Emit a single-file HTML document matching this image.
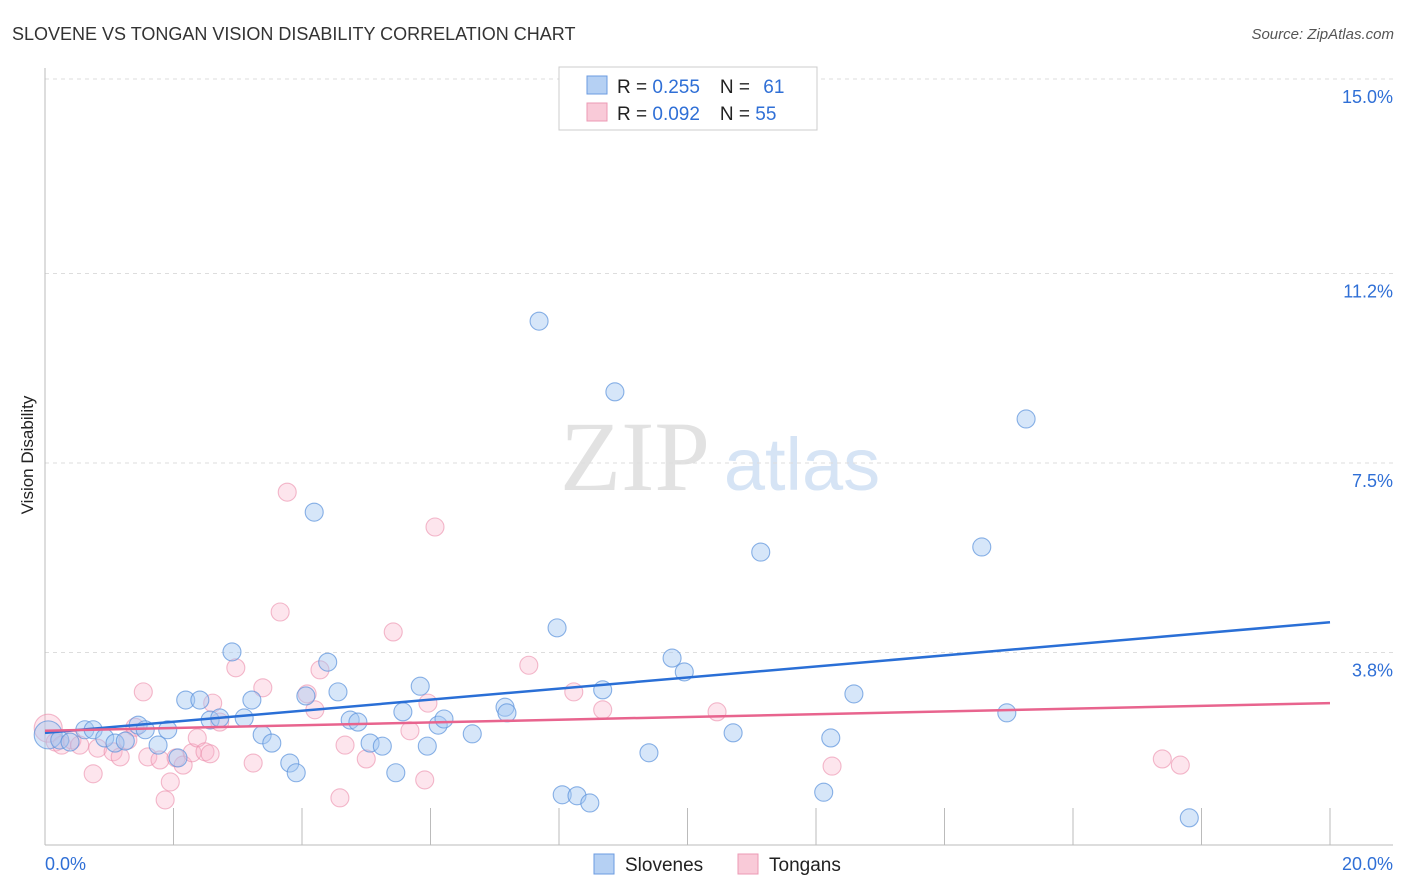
<!DOCTYPE html>
<html><head><meta charset="utf-8"><style>
body{margin:0;background:#fff;font-family:"Liberation Sans",sans-serif;}
svg{display:block}
</style></head><body>
<svg id="chart" width="1406" height="892" xmlns="http://www.w3.org/2000/svg">
<text x="12" y="40" font-size="18" fill="#333">SLOVENE VS TONGAN VISION DISABILITY CORRELATION CHART</text>
<text x="1394" y="39" font-size="15" fill="#555" font-style="italic" text-anchor="end">Source: ZipAtlas.com</text>
<text transform="translate(33,455) rotate(-90)" font-size="17" fill="#222" text-anchor="middle">Vision Disability</text>
<g>
<text x="635" y="490" font-family="Liberation Serif,serif" font-size="100" fill="#e2e2e2" text-anchor="middle">ZIP</text>
<text x="802" y="490" font-size="74" fill="#d6e4f5" text-anchor="middle">atlas</text>
</g>
<g id="grid"></g>
<g id="axes"></g>
<g id="pts"></g>
<g id="lines"></g>
<g>
<rect x="559" y="67" width="258" height="63" fill="#fff" stroke="#ccc"/>
<rect x="587" y="76" width="20" height="18" fill="#b5d0f3" stroke="#6b9be0"/>
<rect x="587" y="103" width="20" height="18" fill="#f9cad8" stroke="#ec9ab4"/>
<text x="617" y="93" font-size="19" fill="#222">R = <tspan fill="#2f6fd6">0.255</tspan><tspan dx="20">N = </tspan><tspan dx="8" fill="#2f6fd6">61</tspan></text>
<text x="617" y="120" font-size="19" fill="#222">R = <tspan fill="#2f6fd6">0.092</tspan><tspan dx="20">N = </tspan><tspan fill="#2f6fd6">55</tspan></text>
</g>
<g>
<rect x="594" y="854" width="20" height="20" fill="#b5d0f3" stroke="#6b9be0"/>
<text x="625" y="871" font-size="19" fill="#222">Slovenes</text>
<rect x="738" y="854" width="20" height="20" fill="#f9cad8" stroke="#ec9ab4"/>
<text x="769" y="871" font-size="19" fill="#222">Tongans</text>
</g>
</svg>
<script>
const yTicks=[3.8,7.5,11.2,15.0];
const yTickLabels=["3.8%","7.5%","11.2%","15.0%"];
const xTicks=[0,2,4,6,8,10,12,14,16,18,20];
const slovX=[0.05,0.23,0.39,0.62,0.75,0.93,1.09,1.25,1.45,1.56,1.76,1.91,2.07,2.19,2.41,2.57,2.72,2.91,3.10,3.22,3.38,3.53,3.81,3.91,4.06,4.19,4.40,4.56,4.75,4.87,5.06,5.25,5.46,5.57,5.84,5.95,6.12,6.21,6.65,7.16,7.19,7.69,7.97,8.05,8.28,8.48,8.68,8.87,9.40,9.76,9.95,10.71,11.14,12.12,12.23,12.59,14.58,14.97,15.27,17.81];
const slovY=[2.19,2.09,2.05,2.29,2.29,2.13,2.03,2.07,2.38,2.29,1.99,2.29,1.74,2.87,2.87,2.48,2.52,3.81,2.52,2.87,2.19,2.03,1.64,1.45,2.95,6.54,3.61,3.03,2.48,2.44,2.03,1.97,1.45,2.64,3.14,1.97,2.38,2.50,2.21,2.73,2.62,10.27,4.28,1.02,1.00,0.86,3.07,8.89,1.84,3.69,3.42,2.23,5.76,1.07,2.13,2.99,5.86,2.62,8.36,0.57];
const tongX=[0.05,0.16,0.26,0.42,0.54,0.75,0.82,1.06,1.17,1.29,1.40,1.53,1.60,1.79,1.87,1.95,2.04,2.15,2.29,2.37,2.49,2.57,2.61,2.72,2.97,3.24,3.39,3.66,3.77,4.08,4.20,4.28,4.59,4.67,5.00,5.42,5.68,5.91,5.96,6.07,7.53,8.23,8.68,10.46,12.25,17.39,17.67];
const tongY=[2.32,2.05,1.99,2.09,1.99,1.43,1.93,1.86,1.76,2.09,2.34,3.03,1.76,1.70,0.92,1.27,1.74,1.60,1.84,2.13,1.86,1.82,2.81,2.44,3.50,1.64,3.11,4.59,6.93,2.99,2.68,3.46,0.96,1.99,1.72,4.20,2.27,1.31,2.81,6.25,3.55,3.03,2.68,2.64,1.58,1.72,1.60];
const slovTrend=[2.23,4.39];
const tongTrend=[2.27,2.81];
const NS="http://www.w3.org/2000/svg";
const X=v=>45+v*64.25, Y=v=>847-v*51.2;
function mk(t,a,p){const e=document.createElementNS(NS,t);for(const k in a)e.setAttribute(k,a[k]);document.getElementById(p).appendChild(e);return e;}
yTicks.forEach((t,i)=>{
 const g=mk('line',{x1:45,x2:1393,y1:Y(t),y2:Y(t),stroke:'#ddd','stroke-dasharray':'4,4'},'grid');
 
 
 const l=mk('text',{x:1393,y:Y(t)+24,'font-size':18,fill:'#2f6fd6','text-anchor':'end'},'grid');
 l.textContent=yTickLabels[i];
 
 
});
mk('line',{x1:45,x2:45,y1:68,y2:845,stroke:'#bbb'},'axes');
const xa=mk('line',{x1:45,x2:1393,y1:845,y2:845,stroke:'#bbb'},'axes');


xTicks.forEach(t=>{
 const k=mk('line',{x1:X(t),x2:X(t),y1:808,y2:845,stroke:'#bbb'},'axes');
 
 
});
const xl0=mk('text',{x:45,y:870,'font-size':18,fill:'#2f6fd6'},'axes');xl0.textContent='0.0%';


const xl1=mk('text',{x:1393,y:870,'font-size':18,fill:'#2f6fd6','text-anchor':'end'},'axes');xl1.textContent='20.0%';


function pts(xs,ys,fill,stroke,name){
 xs.forEach((v,i)=>{
  const c=mk('circle',{cx:X(v),cy:Y(ys[i]),r:i===0?14:9,fill:fill,stroke:stroke,'stroke-width':1.1},'pts');
  
  
 });
}
pts(tongX,tongY,'rgba(248,180,202,0.35)','rgba(235,140,170,0.6)','tongan-point');
pts(slovX,slovY,'rgba(165,200,242,0.45)','rgba(90,145,220,0.7)','slovene-point');
const bl=mk('line',{x1:X(0),x2:X(20),y1:Y(slovTrend[0]),y2:Y(slovTrend[1]),stroke:'#2a6fd6','stroke-width':2.5},'lines');


const pl=mk('line',{x1:X(0),x2:X(20),y1:Y(tongTrend[0]),y2:Y(tongTrend[1]),stroke:'#e8648e','stroke-width':2.5},'lines');


</script>
</body></html>
